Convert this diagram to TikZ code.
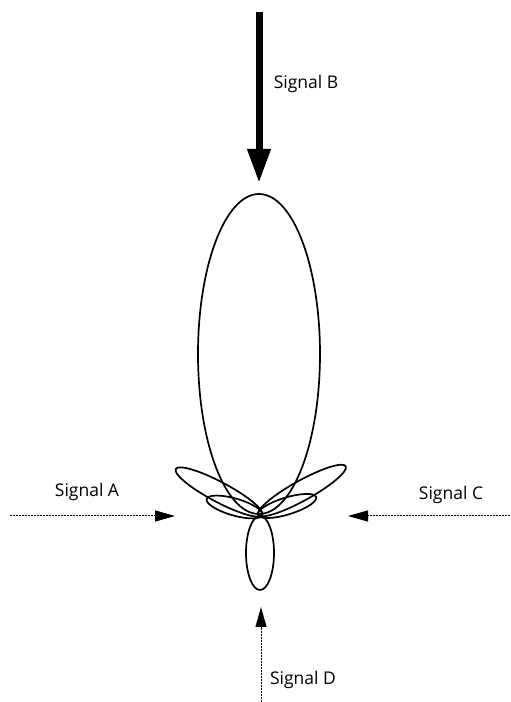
\documentclass[tikz,border=0pt]{standalone}
\usepackage{fontspec}
\setmainfont{Open Sans}
\usetikzlibrary{arrows.meta}
\begin{document}
\begin{tikzpicture}[x=1pt,y=1pt,
  lobe/.style={draw, line width=1.7pt},
  sig/.style={draw, line width=1pt, dash pattern=on 2pt off 1pt, -{Triangle[length=20pt,width=11pt]}},
  big/.style={draw, line width=7pt, -{Triangle[length=34pt,width=22pt]}},
  lbl/.style={font=\fontsize{17.5}{20}\selectfont, inner sep=0pt}]
\useasboundingbox (0,0) rectangle (511,702);
% lobes
\draw[lobe] (259,348) ellipse (61 and 160);
\draw[lobe] (260,149) ellipse (14 and 37);
\draw[lobe, rotate around={-28:(219,210)}] (219,210) ellipse (49 and 10);
\draw[lobe, rotate around={-16:(234.5,195)}] (234.5,195) ellipse (29 and 8.5);
\draw[lobe, rotate around={29:(302,211.5)}] (302,211.5) ellipse (50 and 10);
\draw[lobe, rotate around={17:(287,196)}] (287,196) ellipse (30.5 and 8.5);
% arrow coordinates
\coordinate (bs) at (259,690);
\coordinate (be) at (259,519);
\coordinate (as) at (10,186);
\coordinate (ae) at (175,186);
\coordinate (cs) at (510,186);
\coordinate (ce) at (348,186);
\coordinate (ds) at (261,0);
\coordinate (de) at (261,95);
\draw[big] (bs) -- (be);
\draw[sig] (as) -- (ae);
\draw[sig] (cs) -- (ce);
\draw[sig] (ds) -- (de);
% labels
\node[lbl] (lb) at (306,618) {Signal B};
\node[lbl] (la) at (87,210) {Signal A};
\node[lbl] (lc) at (451,207) {Signal C};
\node[lbl] (ld) at (303,22) {Signal D};
\end{tikzpicture}
\end{document}
